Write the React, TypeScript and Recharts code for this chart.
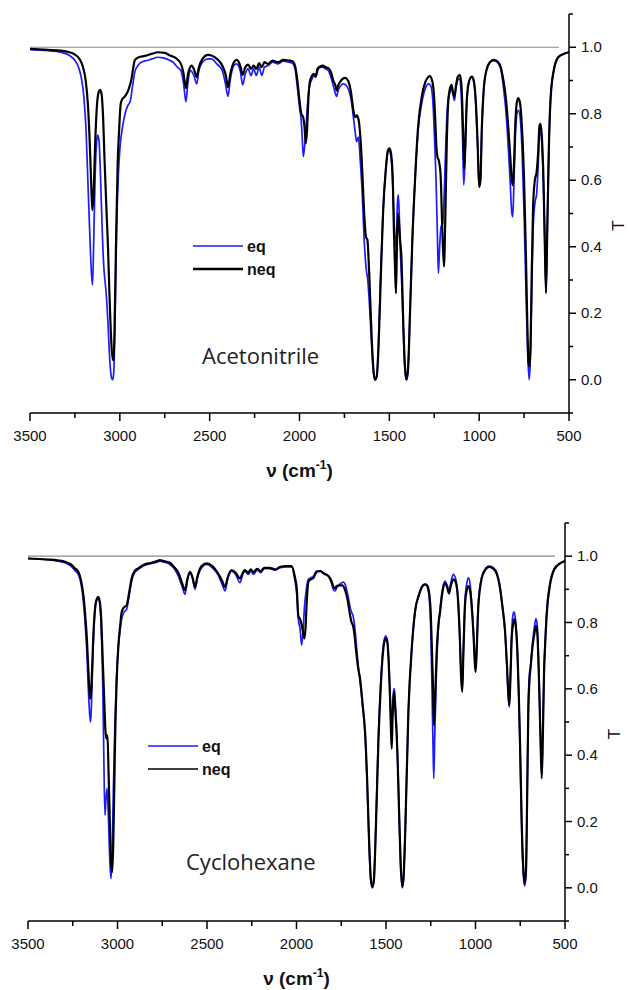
import { LineChart, Line, XAxis, YAxis, ReferenceLine, Legend } from "recharts";

// wavenumber (cm-1), transmittance
const acetonitrileEq: [number, number][] = [
  [3500, 0.993], [3400, 0.99], [3330, 0.985], [3280, 0.975], [3250, 0.96], [3230, 0.94],
  [3215, 0.91], [3200, 0.85], [3188, 0.75], [3178, 0.6], [3168, 0.45], [3158, 0.32],
  [3152, 0.285], [3146, 0.4], [3138, 0.6], [3130, 0.71], [3123, 0.736], [3116, 0.72],
  [3108, 0.62], [3098, 0.45], [3088, 0.33], [3083, 0.3], [3076, 0.26], [3066, 0.17],
  [3056, 0.06], [3046, 0.005], [3040, 0.0], [3034, 0.02], [3026, 0.2], [3018, 0.45],
  [3008, 0.62], [2999, 0.7], [2985, 0.76], [2971, 0.8], [2955, 0.825], [2943, 0.836],
  [2930, 0.88], [2916, 0.927], [2895, 0.948], [2871, 0.957], [2850, 0.96], [2820, 0.965],
  [2790, 0.97], [2760, 0.968], [2720, 0.96], [2704, 0.955], [2680, 0.94], [2660, 0.93],
  [2645, 0.89], [2632, 0.836], [2622, 0.89], [2605, 0.93], [2588, 0.915], [2572, 0.89],
  [2560, 0.93], [2540, 0.955], [2510, 0.965], [2490, 0.965], [2460, 0.95], [2430, 0.93],
  [2412, 0.89], [2398, 0.852], [2386, 0.9], [2365, 0.945], [2350, 0.95], [2330, 0.93],
  [2316, 0.887], [2302, 0.92], [2286, 0.935], [2270, 0.915], [2255, 0.935], [2240, 0.915],
  [2225, 0.94], [2210, 0.915], [2195, 0.94], [2175, 0.945], [2150, 0.955], [2120, 0.95],
  [2090, 0.958], [2060, 0.955], [2040, 0.952], [2025, 0.935], [2012, 0.88], [2000, 0.82],
  [1992, 0.79], [1985, 0.73], [1979, 0.671], [1972, 0.7], [1965, 0.75], [1955, 0.83],
  [1945, 0.88], [1930, 0.905], [1920, 0.915], [1910, 0.91], [1895, 0.935], [1875, 0.94],
  [1855, 0.935], [1840, 0.93], [1825, 0.91], [1810, 0.88], [1800, 0.86], [1793, 0.852],
  [1785, 0.87], [1770, 0.885], [1755, 0.89], [1740, 0.885], [1725, 0.87], [1712, 0.84],
  [1700, 0.79], [1690, 0.745], [1682, 0.716], [1672, 0.73], [1662, 0.66], [1650, 0.55],
  [1640, 0.42], [1628, 0.33], [1620, 0.3], [1610, 0.22], [1598, 0.1], [1588, 0.02],
  [1580, 0.0], [1570, 0.01], [1560, 0.12], [1548, 0.32], [1535, 0.51], [1520, 0.63],
  [1508, 0.685], [1500, 0.69], [1492, 0.675], [1482, 0.6], [1474, 0.48], [1466, 0.4],
  [1460, 0.44], [1455, 0.53], [1450, 0.556], [1445, 0.5], [1438, 0.38], [1428, 0.25],
  [1418, 0.08], [1408, 0.005], [1403, 0.0], [1396, 0.03], [1385, 0.2], [1372, 0.42],
  [1357, 0.6], [1340, 0.75], [1320, 0.83], [1300, 0.875], [1283, 0.89], [1270, 0.885],
  [1258, 0.84], [1248, 0.72], [1240, 0.6], [1233, 0.45], [1227, 0.32], [1220, 0.4],
  [1212, 0.46], [1203, 0.47], [1195, 0.55], [1185, 0.72], [1175, 0.83], [1165, 0.86],
  [1155, 0.875], [1145, 0.86], [1138, 0.84], [1130, 0.875], [1120, 0.9], [1110, 0.905],
  [1100, 0.86], [1092, 0.72], [1086, 0.586], [1080, 0.64], [1072, 0.8], [1060, 0.885],
  [1045, 0.91], [1035, 0.905], [1020, 0.84], [1008, 0.7], [1000, 0.58], [993, 0.6],
  [985, 0.76], [975, 0.87], [960, 0.93], [940, 0.955], [920, 0.96], [900, 0.955],
  [880, 0.935], [865, 0.88], [850, 0.8], [838, 0.7], [828, 0.6], [818, 0.5], [813, 0.49],
  [806, 0.6], [798, 0.74], [790, 0.8], [782, 0.81], [772, 0.79], [762, 0.7], [750, 0.5],
  [740, 0.28], [730, 0.08], [722, 0.0], [716, 0.05], [708, 0.25], [700, 0.45], [690, 0.53],
  [680, 0.56], [672, 0.64], [664, 0.74], [658, 0.745], [650, 0.7], [642, 0.58], [635, 0.42],
  [628, 0.27], [621, 0.45], [612, 0.7], [602, 0.85], [585, 0.93], [560, 0.97], [530, 0.98],
  [500, 0.985],
];

const acetonitrileNeq: [number, number][] = [
  [3500, 0.995], [3400, 0.992], [3330, 0.99], [3280, 0.985], [3250, 0.978], [3225, 0.965],
  [3205, 0.94], [3190, 0.9], [3178, 0.83], [3168, 0.72], [3160, 0.6], [3153, 0.51],
  [3146, 0.56], [3138, 0.7], [3128, 0.82], [3118, 0.865], [3110, 0.872], [3102, 0.86],
  [3094, 0.8], [3085, 0.66], [3075, 0.52], [3066, 0.4], [3058, 0.26], [3048, 0.12],
  [3040, 0.06], [3034, 0.06], [3028, 0.2], [3020, 0.45], [3012, 0.65], [3004, 0.75],
  [2995, 0.83], [2985, 0.845], [2975, 0.85], [2962, 0.86], [2950, 0.875], [2935, 0.905],
  [2925, 0.94], [2916, 0.962], [2895, 0.97], [2860, 0.974], [2823, 0.98], [2788, 0.985],
  [2750, 0.983], [2720, 0.975], [2690, 0.968], [2660, 0.95], [2645, 0.92], [2632, 0.877],
  [2620, 0.92], [2600, 0.945], [2585, 0.93], [2572, 0.91], [2560, 0.94], [2540, 0.965],
  [2510, 0.977], [2490, 0.975], [2460, 0.965], [2430, 0.945], [2410, 0.915], [2398, 0.88],
  [2385, 0.92], [2365, 0.955], [2350, 0.962], [2330, 0.945], [2316, 0.917], [2302, 0.94],
  [2286, 0.948], [2270, 0.935], [2255, 0.945], [2240, 0.935], [2225, 0.952], [2210, 0.94],
  [2195, 0.955], [2175, 0.95], [2150, 0.96], [2120, 0.955], [2090, 0.962], [2060, 0.96],
  [2040, 0.958], [2025, 0.945], [2012, 0.9], [2000, 0.84], [1990, 0.8], [1980, 0.79],
  [1972, 0.76], [1965, 0.711], [1958, 0.75], [1950, 0.85], [1942, 0.897], [1930, 0.915],
  [1920, 0.92], [1910, 0.912], [1900, 0.935], [1885, 0.942], [1870, 0.945], [1855, 0.94],
  [1840, 0.937], [1825, 0.925], [1812, 0.9], [1800, 0.885], [1793, 0.87], [1785, 0.885],
  [1775, 0.895], [1760, 0.905], [1747, 0.908], [1730, 0.9], [1715, 0.87], [1700, 0.81],
  [1690, 0.79], [1680, 0.795], [1669, 0.775], [1660, 0.72], [1650, 0.62], [1640, 0.5],
  [1630, 0.43], [1622, 0.42], [1612, 0.32], [1600, 0.15], [1590, 0.04], [1580, 0.0],
  [1570, 0.01], [1560, 0.1], [1548, 0.3], [1535, 0.5], [1520, 0.63], [1508, 0.69],
  [1500, 0.696], [1492, 0.685], [1482, 0.62], [1474, 0.44], [1468, 0.33], [1463, 0.26],
  [1457, 0.42], [1452, 0.5], [1446, 0.47], [1440, 0.42], [1432, 0.36], [1424, 0.2],
  [1414, 0.05], [1405, 0.0], [1396, 0.03], [1385, 0.2], [1372, 0.42], [1357, 0.6],
  [1340, 0.76], [1320, 0.85], [1300, 0.895], [1287, 0.908], [1275, 0.913], [1262, 0.9],
  [1252, 0.86], [1245, 0.79], [1238, 0.7], [1232, 0.67], [1225, 0.66], [1215, 0.62],
  [1205, 0.45], [1196, 0.34], [1188, 0.5], [1180, 0.72], [1172, 0.836], [1163, 0.875],
  [1153, 0.887], [1145, 0.86], [1138, 0.85], [1130, 0.88], [1120, 0.91], [1107, 0.917],
  [1098, 0.88], [1090, 0.76], [1083, 0.636], [1076, 0.72], [1068, 0.85], [1055, 0.9],
  [1040, 0.912], [1030, 0.9], [1018, 0.83], [1008, 0.7], [1000, 0.58], [993, 0.6],
  [985, 0.76], [975, 0.87], [960, 0.93], [940, 0.955], [920, 0.962], [900, 0.958],
  [880, 0.94], [865, 0.9], [850, 0.84], [838, 0.76], [828, 0.68], [818, 0.6], [812, 0.585],
  [806, 0.65], [798, 0.78], [790, 0.835], [782, 0.847], [772, 0.83], [762, 0.76], [750, 0.6],
  [740, 0.38], [732, 0.17], [725, 0.05], [720, 0.04], [714, 0.1], [708, 0.3], [700, 0.52],
  [690, 0.6], [680, 0.625], [672, 0.68], [664, 0.765], [658, 0.77], [650, 0.72], [642, 0.6],
  [635, 0.42], [628, 0.26], [621, 0.45], [612, 0.7], [602, 0.85], [585, 0.93], [560, 0.97],
  [530, 0.98], [500, 0.985],
];

const cyclohexaneEq: [number, number][] = [
  [3500, 0.993], [3400, 0.99], [3330, 0.985], [3293, 0.98], [3260, 0.97], [3235, 0.955],
  [3219, 0.945], [3205, 0.92], [3190, 0.86], [3180, 0.79], [3172, 0.72], [3163, 0.6],
  [3155, 0.52], [3150, 0.5], [3144, 0.58], [3135, 0.74], [3125, 0.84], [3115, 0.868],
  [3107, 0.87], [3098, 0.85], [3090, 0.77], [3082, 0.6], [3076, 0.38], [3070, 0.219],
  [3064, 0.27], [3058, 0.3], [3050, 0.2], [3042, 0.07], [3036, 0.028], [3030, 0.1],
  [3023, 0.3], [3014, 0.5], [3005, 0.64], [2995, 0.73], [2985, 0.78], [2977, 0.81],
  [2965, 0.83], [2949, 0.84], [2935, 0.88], [2921, 0.925], [2905, 0.95], [2884, 0.96],
  [2850, 0.972], [2809, 0.978], [2780, 0.982], [2763, 0.985], [2740, 0.982], [2707, 0.975],
  [2680, 0.96], [2660, 0.94], [2640, 0.91], [2623, 0.885], [2610, 0.925], [2595, 0.95],
  [2580, 0.93], [2567, 0.9], [2553, 0.935], [2530, 0.965], [2502, 0.975], [2470, 0.965],
  [2440, 0.945], [2415, 0.915], [2399, 0.895], [2385, 0.93], [2362, 0.955], [2340, 0.945],
  [2316, 0.92], [2300, 0.945], [2288, 0.955], [2270, 0.945], [2255, 0.955], [2240, 0.945],
  [2220, 0.958], [2200, 0.95], [2180, 0.962], [2150, 0.962], [2120, 0.958], [2090, 0.965],
  [2060, 0.968], [2027, 0.968], [2010, 0.93], [1998, 0.88], [1990, 0.81], [1980, 0.78],
  [1971, 0.732], [1963, 0.78], [1955, 0.85], [1945, 0.9], [1934, 0.93], [1920, 0.935],
  [1905, 0.94], [1887, 0.955], [1865, 0.955], [1850, 0.95], [1822, 0.94], [1805, 0.92],
  [1795, 0.9], [1785, 0.895], [1775, 0.905], [1760, 0.915], [1738, 0.922], [1725, 0.91],
  [1712, 0.88], [1700, 0.845], [1692, 0.83], [1684, 0.82], [1675, 0.79], [1665, 0.73],
  [1655, 0.67], [1645, 0.625], [1630, 0.545], [1617, 0.465], [1605, 0.31], [1595, 0.14],
  [1585, 0.02], [1576, 0.0], [1568, 0.02], [1560, 0.13], [1550, 0.32], [1543, 0.45],
  [1530, 0.61], [1515, 0.73], [1502, 0.76], [1494, 0.75], [1485, 0.69], [1478, 0.6],
  [1472, 0.52], [1467, 0.5], [1462, 0.55], [1457, 0.6], [1453, 0.6], [1448, 0.56],
  [1440, 0.47], [1430, 0.3], [1419, 0.08], [1409, 0.0], [1402, 0.03], [1392, 0.18],
  [1375, 0.53], [1355, 0.73], [1338, 0.832], [1315, 0.885], [1291, 0.913], [1280, 0.915],
  [1268, 0.905], [1258, 0.87], [1250, 0.78], [1243, 0.6], [1237, 0.42], [1233, 0.33],
  [1228, 0.45], [1220, 0.62], [1210, 0.76], [1198, 0.84], [1185, 0.9], [1170, 0.925],
  [1158, 0.912], [1148, 0.895], [1138, 0.92], [1124, 0.945], [1110, 0.93], [1098, 0.875],
  [1088, 0.76], [1080, 0.64], [1074, 0.6], [1068, 0.71], [1058, 0.87], [1048, 0.92],
  [1040, 0.935], [1030, 0.915], [1020, 0.85], [1010, 0.76], [1003, 0.68], [999, 0.66],
  [993, 0.73], [985, 0.85], [970, 0.925], [950, 0.958], [923, 0.97], [900, 0.965],
  [880, 0.948], [865, 0.915], [850, 0.85], [835, 0.77], [825, 0.67], [816, 0.57],
  [811, 0.545], [805, 0.64], [797, 0.78], [790, 0.825], [785, 0.832], [777, 0.81],
  [767, 0.72], [758, 0.58], [751, 0.42], [742, 0.18], [733, 0.04], [725, 0.005],
  [718, 0.04], [712, 0.25], [705, 0.55], [698, 0.65], [693, 0.665], [683, 0.73],
  [670, 0.79], [662, 0.812], [655, 0.79], [645, 0.63], [637, 0.46], [630, 0.34],
  [624, 0.46], [617, 0.66], [611, 0.74], [600, 0.85], [584, 0.918], [560, 0.962],
  [528, 0.978], [500, 0.985],
];

const cyclohexaneNeq: [number, number][] = [
  [3500, 0.993], [3400, 0.99], [3330, 0.987], [3293, 0.983], [3260, 0.975], [3235, 0.962],
  [3219, 0.953], [3205, 0.93], [3190, 0.88], [3180, 0.82], [3172, 0.76], [3163, 0.66],
  [3155, 0.58], [3150, 0.571], [3144, 0.63], [3135, 0.76], [3125, 0.845], [3115, 0.872],
  [3107, 0.877], [3098, 0.86], [3090, 0.8], [3082, 0.68], [3075, 0.58], [3068, 0.48],
  [3062, 0.45], [3056, 0.46], [3050, 0.35], [3042, 0.18], [3035, 0.07], [3029, 0.048],
  [3023, 0.15], [3018, 0.3], [3014, 0.43], [3005, 0.62], [2995, 0.73], [2985, 0.79],
  [2977, 0.83], [2965, 0.845], [2949, 0.852], [2935, 0.89], [2921, 0.933], [2905, 0.955],
  [2884, 0.963], [2850, 0.975], [2809, 0.98], [2780, 0.985], [2763, 0.988], [2740, 0.985],
  [2707, 0.98], [2680, 0.965], [2660, 0.95], [2640, 0.92], [2623, 0.897], [2610, 0.93],
  [2595, 0.953], [2580, 0.935], [2567, 0.907], [2553, 0.94], [2530, 0.97], [2502, 0.978],
  [2470, 0.97], [2440, 0.95], [2415, 0.925], [2399, 0.907], [2385, 0.935], [2362, 0.958],
  [2340, 0.95], [2316, 0.933], [2300, 0.95], [2288, 0.958], [2270, 0.95], [2255, 0.96],
  [2240, 0.952], [2220, 0.962], [2200, 0.955], [2180, 0.965], [2150, 0.965], [2120, 0.96],
  [2090, 0.968], [2060, 0.97], [2027, 0.97], [2010, 0.94], [1998, 0.9], [1990, 0.82],
  [1980, 0.81], [1970, 0.79], [1963, 0.77], [1956, 0.752], [1950, 0.78], [1942, 0.87],
  [1934, 0.922], [1920, 0.93], [1905, 0.935], [1887, 0.953], [1865, 0.955], [1850, 0.948],
  [1822, 0.94], [1805, 0.925], [1795, 0.91], [1785, 0.903], [1775, 0.91], [1760, 0.912],
  [1745, 0.912], [1730, 0.9], [1715, 0.87], [1700, 0.82], [1692, 0.8], [1684, 0.79],
  [1677, 0.767], [1668, 0.72], [1655, 0.66], [1645, 0.631], [1630, 0.55], [1617, 0.47],
  [1605, 0.32], [1595, 0.15], [1585, 0.03], [1576, 0.003], [1568, 0.02], [1560, 0.12],
  [1550, 0.3], [1543, 0.43], [1530, 0.6], [1515, 0.72], [1502, 0.752], [1494, 0.745],
  [1485, 0.68], [1478, 0.58], [1472, 0.47], [1468, 0.42], [1464, 0.5], [1459, 0.57],
  [1455, 0.59], [1450, 0.55], [1444, 0.5], [1436, 0.4], [1428, 0.25], [1418, 0.07],
  [1409, 0.003], [1402, 0.03], [1392, 0.18], [1375, 0.53], [1355, 0.73], [1338, 0.832],
  [1315, 0.885], [1291, 0.913], [1280, 0.915], [1268, 0.91], [1258, 0.885], [1250, 0.83],
  [1244, 0.73], [1238, 0.62], [1232, 0.49], [1226, 0.56], [1218, 0.7], [1208, 0.79],
  [1198, 0.832], [1185, 0.89], [1170, 0.918], [1158, 0.905], [1148, 0.888], [1138, 0.91],
  [1124, 0.93], [1110, 0.92], [1098, 0.87], [1088, 0.76], [1080, 0.63], [1074, 0.591],
  [1068, 0.7], [1058, 0.86], [1048, 0.9], [1040, 0.91], [1030, 0.895], [1020, 0.84],
  [1010, 0.75], [1003, 0.67], [999, 0.651], [993, 0.72], [985, 0.84], [970, 0.92],
  [950, 0.955], [923, 0.968], [900, 0.962], [880, 0.945], [865, 0.91], [850, 0.85],
  [835, 0.775], [825, 0.68], [816, 0.58], [811, 0.551], [805, 0.63], [797, 0.76],
  [788, 0.8], [782, 0.81], [775, 0.79], [765, 0.7], [758, 0.58], [751, 0.43], [742, 0.2],
  [733, 0.06], [725, 0.015], [718, 0.05], [712, 0.25], [705, 0.53], [698, 0.63],
  [693, 0.66], [683, 0.72], [670, 0.77], [662, 0.79], [655, 0.77], [645, 0.62],
  [637, 0.45], [630, 0.33], [624, 0.45], [617, 0.65], [611, 0.732], [600, 0.84],
  [584, 0.913], [560, 0.96], [528, 0.978], [500, 0.985],
];

const xTicks = [3500, 3250, 3000, 2750, 2500, 2250, 2000, 1750, 1500, 1250, 1000, 750, 500];
const yTicks = [-0.1, 0, 0.1, 0.2, 0.3, 0.4, 0.5, 0.6, 0.7, 0.8, 0.9, 1.0, 1.1];

const BLUE = "#1c1cff";
const TICK = 8;
const FONT = "'Liberation Sans', Arial, sans-serif";

const toPoints = (arr: [number, number][]) => arr.map(([wn, t]) => ({ wn, t }));

function XTick({ x, y, payload }: any) {
  const v = payload.value;
  const major = v % 500 === 0;
  const y0 = y - TICK;
  return (
    <g>
      <line x1={x} x2={x} y1={y0} y2={y0 + (major ? 8 : 5)} stroke="#000" strokeWidth={1.5} />
      {major && (
        <text x={x} y={y0 + 28} textAnchor="middle" fontSize={15} fontFamily={FONT} fill="#111">
          {v}
        </text>
      )}
    </g>
  );
}

function YTick({ x, y, payload }: any) {
  const v = payload.value;
  const k = Math.round(v * 10);
  const major = k >= 0 && k <= 10 && k % 2 === 0;
  const x0 = x - TICK;
  return (
    <g>
      <line x1={x0} x2={x0 + (major ? 7 : 4)} y1={y} y2={y} stroke="#000" strokeWidth={1.5} />
      {major && (
        <text x={x0 + 12} y={y + 5} textAnchor="start" fontSize={15} fontFamily={FONT} fill="#111">
          {(k / 10).toFixed(1)}
        </text>
      )}
    </g>
  );
}

function XTitle({ viewBox }: any) {
  const cx = viewBox.x + viewBox.width / 2;
  const y = viewBox.y + 64;
  return (
    <text x={cx} y={y} textAnchor="middle" fontSize={19} fontWeight="bold" fontFamily={FONT} fill="#111">
      <tspan>ν (cm</tspan>
      <tspan dy={-8} fontSize={12}>-1</tspan>
      <tspan dy={8}>)</tspan>
    </text>
  );
}

function YTitle({ viewBox }: any) {
  const x = viewBox.x + 49;
  const y = viewBox.y + viewBox.height / 2 + 12;
  return (
    <text
      x={x}
      y={y}
      transform={`rotate(-90 ${x} ${y})`}
      textAnchor="middle"
      dominantBaseline="central"
      fontSize={17}
      fontFamily={FONT}
      fill="#111"
    >
      T
    </text>
  );
}

function LegendBox({ thick }: { thick: number }) {
  return (
    <svg width={100} height={46}>
      <line x1={0} x2={50} y1={10} y2={10} stroke={BLUE} strokeWidth={1.6} />
      <line x1={0} x2={50} y1={33} y2={33} stroke="#000" strokeWidth={thick} />
      <text x={54} y={16} fontSize={16} fontWeight="bold" fontFamily={FONT} fill="#111">eq</text>
      <text x={54} y={39} fontSize={16} fontWeight="bold" fontFamily={FONT} fill="#111">neq</text>
    </svg>
  );
}

interface PanelProps {
  eq: [number, number][];
  neq: [number, number][];
  name: string;
  top: number;
  height: number;
  margin: { top: number; right: number; bottom: number; left: number };
  legendPos: { left: number; top: number };
  legendThick: number;
  namePos: { x: number; y: number };
}

function Panel({ eq, neq, name, top, height, margin, legendPos, legendThick, namePos }: PanelProps) {
  return (
    <div style={{ position: "absolute", left: 0, top, width: 629, height }}>
      <LineChart width={629} height={height} margin={margin}>
        <XAxis
          dataKey="wn"
          type="number"
          domain={[500, 3500]}
          reversed
          ticks={xTicks}
          interval={0}
          allowDataOverflow
          height={80}
          tickSize={TICK}
          tickMargin={0}
          tickLine={false}
          tick={<XTick />}
          axisLine={{ stroke: "#000", strokeWidth: 1.5 }}
          label={{ content: <XTitle /> }}
        />
        <YAxis
          yAxisId={0}
          orientation="right"
          type="number"
          domain={[-0.1, 1.1]}
          ticks={yTicks}
          interval={0}
          allowDataOverflow
          width={50}
          tickSize={TICK}
          tickMargin={0}
          tickLine={false}
          tick={<YTick />}
          axisLine={{ stroke: "#000", strokeWidth: 1.5 }}
          label={{ content: <YTitle /> }}
        />
        <ReferenceLine
          segment={[{ x: 3500, y: 1 }, { x: 556, y: 1 }]}
          stroke="#8a8a8a"
          strokeWidth={1.2}
        />
        <Line
          data={toPoints(eq)}
          dataKey="t"
          type="monotone"
          stroke={BLUE}
          strokeWidth={1.7}
          dot={false}
          isAnimationActive={false}
        />
        <Line
          data={toPoints(neq)}
          dataKey="t"
          type="monotone"
          stroke="#000"
          strokeWidth={2.2}
          dot={false}
          isAnimationActive={false}
        />
        <Legend
          layout="horizontal"
          verticalAlign="middle"
          align="center"
          content={() => <LegendBox thick={legendThick} />}
          wrapperStyle={{ left: legendPos.left, top: legendPos.top, width: 100, height: 46 }}
        />
        <text x={namePos.x} y={namePos.y} fontSize={22} fontFamily="'Open Sans', sans-serif" fill="#222">
          {name}
        </text>
      </LineChart>
    </div>
  );
}

export default function App() {
  return (
    <div style={{ position: "absolute", left: 0, top: 0, width: 629, height: 990, background: "#fff" }}>
      <Panel
        eq={acetonitrileEq}
        neq={acetonitrileNeq}
        name="Acetonitrile"
        top={0}
        height={500}
        margin={{ top: 14, right: 10, bottom: 7, left: 30 }}
        legendPos={{ left: 193, top: 236 }}
        legendThick={2.5}
        namePos={{ x: 202, y: 364 }}
      />
      <Panel
        eq={cyclohexaneEq}
        neq={cyclohexaneNeq}
        name="Cyclohexane"
        top={508}
        height={482}
        margin={{ top: 15, right: 14, bottom: -11, left: 28 }}
        legendPos={{ left: 148, top: 228 }}
        legendThick={1.6}
        namePos={{ x: 186, y: 362 }}
      />
    </div>
  );
}
